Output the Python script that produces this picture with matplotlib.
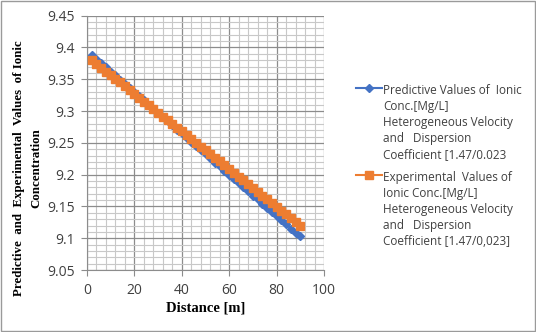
import numpy as np
import matplotlib.pyplot as plt
from matplotlib.ticker import MultipleLocator

distance = list(range(2, 91, 2))
predictive = [9.388, 9.382, 9.375, 9.369, 9.362, 9.356, 9.349, 9.343, 9.336, 9.330,
              9.323, 9.317, 9.310, 9.304, 9.297, 9.291, 9.284, 9.278, 9.271, 9.265,
              9.258, 9.252, 9.245, 9.239, 9.232, 9.226, 9.219, 9.213, 9.206, 9.200,
              9.193, 9.187, 9.180, 9.174, 9.167, 9.161, 9.154, 9.148, 9.141, 9.135,
              9.128, 9.122, 9.115, 9.109, 9.103]
experimental = [9.380, 9.374, 9.368, 9.362, 9.356, 9.350, 9.345, 9.339, 9.333, 9.327,
                9.321, 9.315, 9.309, 9.303, 9.297, 9.291, 9.286, 9.280, 9.274, 9.268,
                9.262, 9.256, 9.250, 9.244, 9.238, 9.232, 9.226, 9.221, 9.215, 9.209,
                9.203, 9.197, 9.191, 9.185, 9.179, 9.173, 9.167, 9.161, 9.155, 9.149,
                9.143, 9.138, 9.132, 9.126, 9.120]
ytick_labels = ["9.05", "9.1", "9.15", "9.2", "9.25", "9.3", "9.35", "9.4", "9.45"]

label_pred = ("Predictive Values of  Ionic\nConc.[Mg/L]\nHeterogeneous Velocity\n"
              "and   Dispersion\nCoefficient [1.47/0.023")
label_exp = ("Experimental  Values of\nIonic Conc.[Mg/L]\nHeterogeneous Velocity\n"
             "and   Dispersion\nCoefficient [1.47/0,023]")

fig = plt.figure(figsize=(5.36, 3.32), dpi=100)
fig.patches.append(plt.Rectangle((0.001, 0.002), 0.997, 0.995, transform=fig.transFigure,
                                 fill=False, edgecolor="#9a9a9a", lw=1))
ax = fig.add_axes([0.1623, 0.1867, 0.4422, 0.766])

ax.plot(distance, predictive, color="#4472C4", marker="D", markersize=3.8, lw=1.5,
        label=label_pred, zorder=3)
ax.plot(distance, experimental, color="#ED7D31", marker="s", markersize=6, lw=1.5,
        label=label_exp, zorder=4)

ax.set_xlim(0, 100)
ax.set_ylim(9.05, 9.45)
ax.xaxis.set_major_locator(MultipleLocator(20))
ax.xaxis.set_minor_locator(MultipleLocator(4))
ax.yaxis.set_minor_locator(MultipleLocator(0.01))
ax.set_yticks(np.arange(9.05, 9.451, 0.05))
ax.set_yticklabels(ytick_labels)
ax.grid(which="major", color="#8c8c8c", lw=0.9)
ax.grid(which="minor", color="#c8c8c8", lw=0.8)
ax.set_axisbelow(True)
for s in ["top", "right"]:
    ax.spines[s].set_visible(False)
for s in ["left", "bottom"]:
    ax.spines[s].set_color("#8c8c8c")
ax.tick_params(which="major", direction="out", length=4, color="#8c8c8c",
               labelsize=10, labelcolor="#404040", pad=5)
ax.tick_params(which="minor", length=0)
for lab in ax.get_xticklabels() + ax.get_yticklabels():
    lab.set_family("Open Sans")

ax.set_xlabel("Distance [m]", family="Liberation Serif", weight="bold", fontsize=10.5,
              labelpad=3)
ax.set_ylabel("Predictive  and  Experimental  Values  of Ionic\nConcentration",
              family="Liberation Serif", weight="bold", fontsize=9.3, linespacing=1.5)
ax.yaxis.set_label_coords(-0.19, 0.40)

leg = fig.legend(loc="upper left", bbox_to_anchor=(0.645, 0.78), frameon=False,
                 prop={"family": "Open Sans", "size": 8.5}, handlelength=2.2,
                 labelspacing=0.85, handletextpad=0.1)
for t in leg.get_texts():
    t.set_color("#404040")
    t.set_linespacing(1.3)
# put each handle next to the first line of its label
for column in leg._legend_handle_box.get_children():
    for row in column.get_children():
        row.align = "top"

fig.savefig("out.png", dpi=100)
